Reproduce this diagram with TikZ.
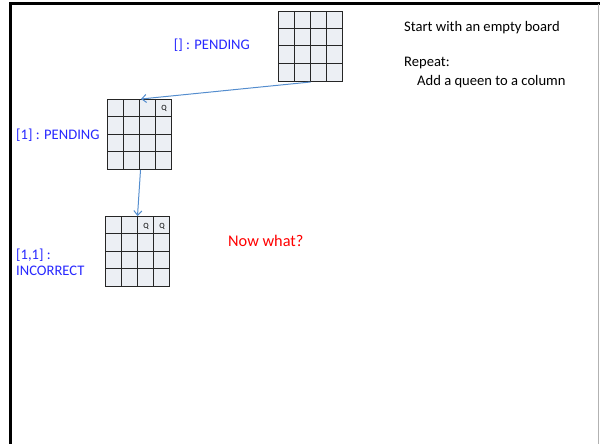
\documentclass[tikz,border=0pt]{standalone}
\usepackage{fontspec}
\setmainfont{Carlito}
\usepackage{xcolor}
\usepackage{tikz}
\usetikzlibrary{arrows.meta}

\definecolor{cellfill}{RGB}{236,239,244}
\definecolor{stateblue}{RGB}{40,40,255}
\definecolor{linkblue}{RGB}{84,141,206}

\begin{document}
\begin{tikzpicture}[x=1pt,y=-1pt,
	board/.style={draw=black!85,fill=cellfill,line width=1pt,minimum width=64pt,minimum height=70pt,inner sep=0pt,anchor=north west},
	cell/.style={draw=black!85,line width=1pt},
	queen/.style={font=\fontsize{8}{9}\selectfont,inner sep=0pt},
	state/.style={text=stateblue,font=\fontsize{14.6}{16}\selectfont,inner sep=0pt},
	note/.style={font=\fontsize{14.6}{16}\selectfont,inner sep=0pt,anchor=west},
	link/.style={draw=linkblue,line width=1pt,-{Straight Barb[length=4.5pt,width=8pt]}}]
	\useasboundingbox (0,0) rectangle (600,444);
	% frame
	\draw[line width=3pt] (10,444) -- (10,4) -- (600,4);
	\draw[gray!60,line width=0.8pt] (598,4) -- (598,444);
	% boards
	\foreach \bx/\by/\nm in {278/11/b0,107/99/b1,105/216/b2} {
		\node[board] (\nm) at (\bx,\by) {};
		\foreach \i in {1,2,3} {
			\draw[cell] (\bx+\i*16,\by) -- (\bx+\i*16,\by+70);
			\draw[cell] (\bx,\by+\i*17.5) -- (\bx+64,\by+\i*17.5);
		}
	}
	% queens
	\node[queen] (q1) at (164,108) {Q};
	\node[queen] (q2) at (146,226) {Q};
	\node[queen] (q3) at (162,226) {Q};
	% states
	\node[state,anchor=east] (s0) at (250,45) {[] : PENDING};
	\node[state,anchor=west] (s1) at (16,135) {[1] : PENDING};
	\node[state,anchor=west,align=left] (s2) at (16,262) {[1,1] :\\INCORRECT};
	\node[text=red,font=\fontsize{16.3}{18}\selectfont,inner sep=0pt,anchor=west] (what) at (228,241) {Now what?};
	% notes
	\node[note] (n0) at (404,28) {Start with an empty board};
	\node[note] (n1) at (404,63) {Repeat:};
	\node[note] (n2) at (417,82) {Add a queen to a column};
	% links
	\draw[link] (b0.south) -- ([xshift=1.5pt]b1.north);
	\draw[link] ([xshift=1pt]b1.south) -- (b2.north);
\end{tikzpicture}
\end{document}
